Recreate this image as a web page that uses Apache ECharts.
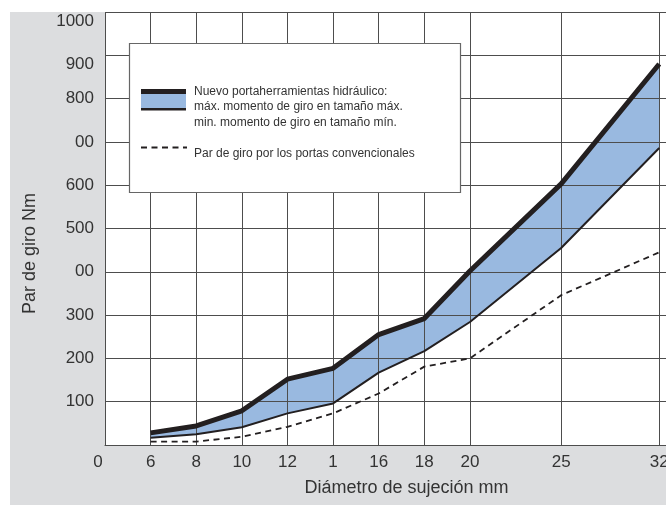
<!DOCTYPE html>
<html>
<head>
<meta charset="utf-8">
<script src="https://cdn.jsdelivr.net/npm/echarts@6/dist/echarts.min.js"></script>
<style>
html,body{margin:0;padding:0;background:#fff;}
#c{width:666px;height:505px;}
</style>
</head>
<body>
<div id="c"></div>
<script>
// ---- data ----
const diameters = [6, 8, 10, 12, 14, 16, 18, 20, 25, 32];
// slot of each diameter on the (non-linear) x axis of the original chart
const diameterSlots = [1, 2, 3, 4, 5, 6, 7, 8, 10, 12.15];
const maxTorque = [28, 44, 79, 152, 177, 255, 292, 402, 603, 880];
const minTorque = [17, 25, 41, 73, 96, 167, 217, 284, 455, 686];
const conventional = [8, 8, 19, 42, 73, 119, 181, 200, 346, 445];

const xTickSlots = [0, 1, 2, 3, 4, 5, 6, 7, 8, 10, 12.15];
const xTickLabels = ['0', '6', '8', '10', '12', '1', '16', '18', '20', '25', '32'];
const yTickValues = [100, 200, 300, 400, 500, 600, 700, 800, 900, 1000];
const yTickLabels = ['100', '200', '300', '00', '500', '600', '00', '800', '900', '1000'];

const legendLines = ['Nuevo portaherramientas hidráulico:', 'máx. momento de giro en tamaño máx.', 'min. momento de giro en tamaño mín.'];
const legendLine2 = 'Par de giro por los portas convencionales';
const xTitle = 'Diámetro de sujeción mm';
const yTitle = 'Par de giro Nm';

// ---- styles ----
const FONT = '"Liberation Sans", Arial, sans-serif';
const TXT = '#333';
const BLUE = '#99b9e0';
const INK = '#231f20';
const GRID = '#4d4d4d';

const chart = echarts.init(document.getElementById('c'), null, {renderer: 'canvas'});

const option = {
  animation: false,
  backgroundColor: '#dcdddf',
  grid: {
    left: 105, top: 12, right: -32, bottom: 60,
    show: true, backgroundColor: '#fff', borderWidth: 0,
    outerBoundsMode: 'none', containLabel: false
  },
  xAxis: {
    type: 'value', min: 0, max: 13, z: 1.5,
    axisLine: {show: true, lineStyle: {color: GRID, width: 1}},
    axisTick: {show: false, customValues: xTickSlots},
    splitLine: {show: true, lineStyle: {color: GRID, width: 1}},
    axisLabel: {
      customValues: xTickSlots,
      margin: 9,
      fontFamily: FONT, fontSize: 17, color: TXT,
      formatter: function (v) {
        const i = xTickSlots.findIndex(s => Math.abs(s - v) < 1e-6);
        if (i < 0) return '';
        if (i === 0) return '{z|' + xTickLabels[i] + '}';
        return xTickLabels[i];
      },
      rich: {z: {fontFamily: FONT, fontSize: 17, color: TXT, padding: [0, 14, 0, 0]}}
    },
    name: xTitle, nameLocation: 'middle', nameGap: 34,
    nameTextStyle: {fontFamily: FONT, fontSize: 18, color: TXT, padding: [0, 0, 0, 10]}
  },
  yAxis: {
    type: 'value', min: 0, max: 1000, interval: 100, z: 1.5,
    axisLine: {show: true, lineStyle: {color: GRID, width: 1}},
    axisTick: {show: false},
    splitLine: {show: true, lineStyle: {color: GRID, width: 1}},
    axisLabel: {
      margin: 11,
      fontFamily: FONT, fontSize: 17, color: TXT,
      formatter: function (v) {
        const i = yTickValues.indexOf(v);
        if (i < 0) return '';
        if (v >= 900) return '{d|' + yTickLabels[i] + '}';
        return yTickLabels[i];
      },
      rich: {d: {fontFamily: FONT, fontSize: 17, color: TXT, padding: [19, 0, 0, 0]}}
    },
    name: yTitle, nameLocation: 'middle', nameGap: 66, nameRotate: 90,
    nameTextStyle: {fontFamily: FONT, fontSize: 18, color: TXT, padding: [0, 50, 0, 0]}
  },
  series: [
    {
      type: 'custom', z: 1, silent: true,
      data: [[diameterSlots[0], minTorque[0]]],
      renderItem: function (params, api) {
        const pts = [];
        for (let i = 0; i < diameters.length; i++) pts.push(api.coord([diameterSlots[i], maxTorque[i]]));
        for (let i = diameters.length - 1; i >= 0; i--) pts.push(api.coord([diameterSlots[i], minTorque[i]]));
        return {type: 'polygon', shape: {points: pts}, style: {fill: BLUE}};
      }
    },
    {
      type: 'line', z: 3, symbol: 'none',
      data: diameters.map((d, i) => [diameterSlots[i], conventional[i]]),
      lineStyle: {color: INK, width: 1.8, type: [6, 4.5]}
    },
    {
      type: 'line', z: 4, symbol: 'none',
      data: diameters.map((d, i) => [diameterSlots[i], minTorque[i]]),
      lineStyle: {color: INK, width: 2}
    },
    {
      type: 'line', z: 5, symbol: 'none',
      data: diameters.map((d, i) => [diameterSlots[i], maxTorque[i]]),
      lineStyle: {color: INK, width: 5}
    }
  ],
  graphic: [
    {type: 'rect', z: 50, shape: {x: 0, y: 0, width: 666, height: 12}, style: {fill: '#fff'}, silent: true},
    {type: 'rect', z: 50, shape: {x: 0, y: 0, width: 10, height: 505}, style: {fill: '#fff'}, silent: true},
    {type: 'rect', z: 100, shape: {x: 129.5, y: 43.5, width: 331, height: 149}, style: {fill: '#fff', stroke: '#666', lineWidth: 1.2}},
    {type: 'rect', z: 101, shape: {x: 141, y: 94, width: 45, height: 14}, style: {fill: BLUE}},
    {type: 'rect', z: 101, shape: {x: 141, y: 89, width: 45, height: 5}, style: {fill: INK}},
    {type: 'rect', z: 101, shape: {x: 141, y: 108, width: 45, height: 2.5}, style: {fill: INK}},
    {type: 'line', z: 101, shape: {x1: 141, y1: 147.5, x2: 187, y2: 147.5}, style: {stroke: INK, lineWidth: 1.8, lineDash: [6, 4.5]}},
    {type: 'text', z: 101, x: 194, y: 83.5, style: {text: legendLines.join('\n'), font: '12px ' + FONT, fill: TXT, lineHeight: 15.5}},
    {type: 'text', z: 101, x: 194, y: 147.5, style: {text: legendLine2, font: '12px ' + FONT, fill: TXT}}
  ]
};
chart.setOption(option);
</script>
</body>
</html>
